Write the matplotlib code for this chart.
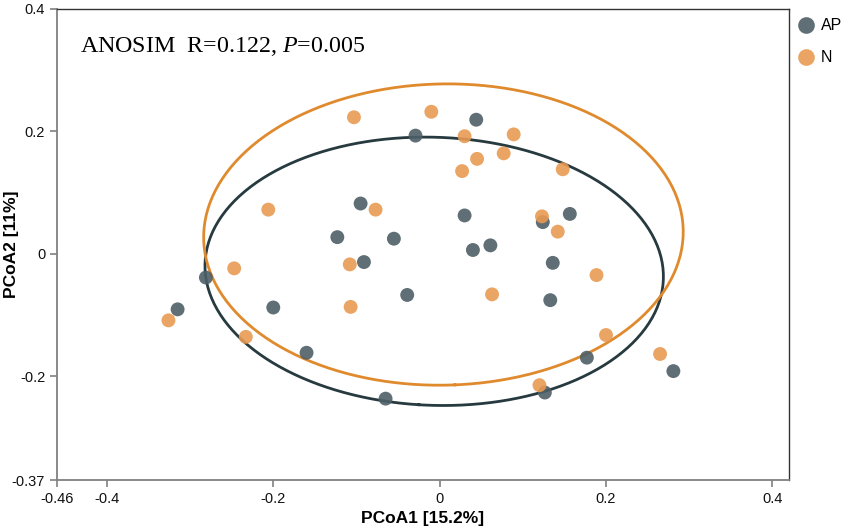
import numpy as np
import matplotlib
matplotlib.use("Agg")
from matplotlib import pyplot as plt
from matplotlib.lines import Line2D

plt.rcParams["mathtext.fontset"] = "custom"
plt.rcParams["mathtext.it"] = "Liberation Serif:italic"
plt.rcParams["mathtext.rm"] = "Liberation Serif"

# PCoA coordinates
ap_x = [-0.029, -0.095, -0.123, -0.055, -0.091, -0.281, -0.315, -0.200, -0.039, -0.160, -0.065,
        0.044, 0.030, 0.124, 0.1565, 0.040, 0.061, 0.136, 0.133, 0.177, 0.281, 0.1265]
ap_y = [0.193, 0.082, 0.027, 0.0245, -0.0137, -0.039, -0.091, -0.088, -0.0675, -0.162, -0.237,
        0.219, 0.0625, 0.0516, 0.065, 0.006, 0.0136, -0.015, -0.076, -0.170, -0.192, -0.227]
n_x = [-0.103, -0.010, -0.206, -0.077, -0.247, -0.108, -0.326, -0.107, -0.233, 0.030, 0.089,
       0.077, 0.045, 0.027, 0.148, 0.123, 0.142, 0.1886, 0.063, 0.200, 0.265, 0.120]
n_y = [0.223, 0.232, 0.072, 0.072, -0.024, -0.0175, -0.109, -0.087, -0.136, 0.192, 0.195,
       0.164, 0.155, 0.135, 0.138, 0.061, 0.036, -0.035, -0.0665, -0.133, -0.164, -0.215]

groups = ["AP", "N"]
xticks = [-0.46, -0.4, -0.2, 0, 0.2, 0.4]
yticks = [-0.37, -0.2, 0, 0.2, 0.4]
level = 0.8

pt_col = {"AP": "#4d5f66", "N": "#e89a52"}
line_col = {"AP": "#263a40", "N": "#e08a2e"}


def ellipse(x, y, level):
    x = np.asarray(x)
    y = np.asarray(y)
    cov = np.cov(x, y)
    vals, vecs = np.linalg.eigh(cov)
    k = np.sqrt(-2 * np.log(1 - level))
    t = np.linspace(0, 2 * np.pi, 300)
    circ = np.vstack([np.cos(t), np.sin(t)])
    pts = vecs @ (np.sqrt(vals)[:, None] * k * circ)
    return pts[0] + x.mean(), pts[1] + y.mean()


fig = plt.figure(figsize=(8.51, 5.32), dpi=100)
ax = fig.add_axes([57 / 851, 1 - 480 / 532, (789 - 57) / 851, (480 - 9) / 532])

data = {"AP": (ap_x, ap_y), "N": (n_x, n_y)}
for g in groups:
    ex, ey = ellipse(*data[g], level)
    ax.plot(ex, ey, color=line_col[g], lw=2, zorder=2)
for g in groups:
    ax.scatter(*data[g], s=100, color=pt_col[g], alpha=0.9, edgecolors="none", zorder=3)

ax.set_xlim(-0.46, 0.42)
ax.set_ylim(-0.37, 0.4)
ax.set_xticks(xticks)
ax.set_xticklabels(["-0.46", "-0.4", "-0.2", "0", "0.2", "0.4"])
ax.set_yticks(yticks)
ax.set_yticklabels(["-0.37", "-0.2", "0", "0.2", "0.4"])

for s in ["left", "bottom"]:
    ax.spines[s].set_color("#808080")
    ax.spines[s].set_linewidth(1.3)
for s in ["top", "right"]:
    ax.spines[s].set_color("#333333")
    ax.spines[s].set_linewidth(1.0)
ax.tick_params(colors="#808080", length=5, width=1.2, labelsize=10.5, labelcolor="#111111",
               labelfontfamily="Liberation Sans")

ax.set_xlabel("PCoA1 [15.2%]", fontsize=12.5, fontweight="bold", family="Liberation Sans", labelpad=4)
ax.set_ylabel("PCoA2 [11%]", fontsize=12.5, fontweight="bold", family="Liberation Sans")
ax.yaxis.set_label_coords((19 - 57) / 732, 0.5)

ax.text(0.031, 0.945, "ANOSIM  R=0.122, $\\it{P}$=0.005", transform=ax.transAxes,
        fontsize=17.3, family="Liberation Serif", va="top", ha="left")

handles = [Line2D([], [], ls="", marker="o", markersize=12, markerfacecolor=pt_col[g],
                  markeredgecolor="none", alpha=0.9) for g in groups]
leg = fig.legend(handles, groups, loc="upper left", bbox_to_anchor=(782 / 851, 1 - 4 / 532),
                 frameon=False, prop={"family": "Liberation Sans", "size": 11.5},
                 handletextpad=0.35, labelspacing=1.05, handlelength=1.2)

fig.savefig("out.png", dpi=100)
